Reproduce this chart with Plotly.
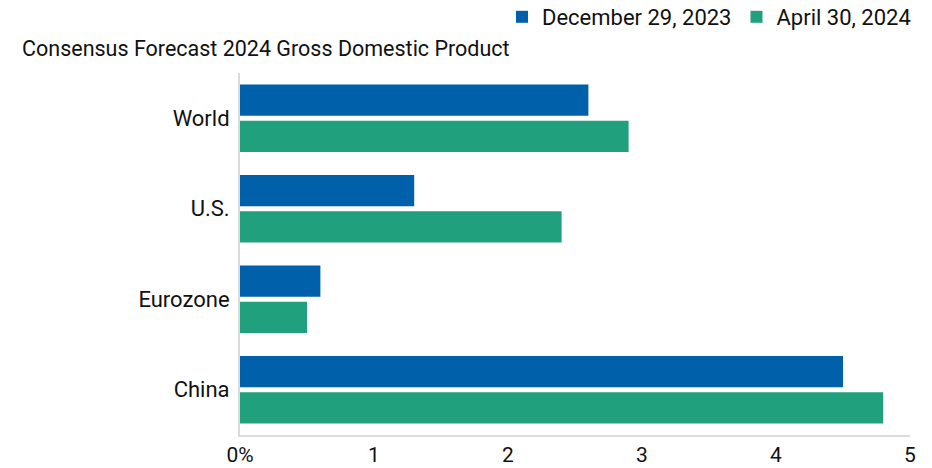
import plotly.graph_objects as go

categories = ["World", "U.S.", "Eurozone", "China"]
dec_2023 = [2.6, 1.3, 0.6, 4.5]
apr_2024 = [2.9, 2.4, 0.5, 4.8]
series_names = ["December 29, 2023", "April 30, 2024"]
tick_vals = [0, 1, 2, 3, 4, 5]
tick_text = ["0%", "1", "2", "3", "4", "5"]
title_text = "Consensus Forecast 2024 Gross Domestic Product"

BLUE = "#0060A9"
GREEN = "#21A07E"
FONT = "Roboto, Arial, sans-serif"
W, H = 932, 468

fig = go.Figure()
fig.add_trace(go.Bar(y=categories, x=dec_2023, orientation="h", name=series_names[0],
                     marker=dict(color=BLUE, line=dict(width=0))))
fig.add_trace(go.Bar(y=categories, x=apr_2024, orientation="h", name=series_names[1],
                     marker=dict(color=GREEN, line=dict(width=0))))

fig.update_layout(
    width=W, height=H,
    margin=dict(l=240, r=W - 240 - 670, t=73, b=H - 73 - 362, autoexpand=False),
    paper_bgcolor="white", plot_bgcolor="white",
    barmode="group", bargap=0.2, bargroupgap=0.14,
    font=dict(family=FONT, size=22, color="#111111"),
    showlegend=True,
    legend=dict(orientation="h", x=916 / W, xref="container", xanchor="right",
                y=1 - 17 / H, yref="container", yanchor="middle",
                font=dict(size=22, color="#111111"),
                itemwidth=30, traceorder="normal", bgcolor="rgba(0,0,0,0)"),
    annotations=[dict(text=title_text, xref="paper", yref="paper",
                      x=-(240 - 20) / 670, y=1.0,
                      xanchor="left", yanchor="middle", yshift=73 - 48, showarrow=False,
                      font=dict(size=21.5, color="#111111", family=FONT))],
    xaxis=dict(range=[0, 5], tickvals=tick_vals, ticktext=tick_text, showgrid=False,
               zeroline=False, showline=True, linecolor="#D9DCDF", linewidth=2,
               ticks="", ticklabelstandoff=0, tickfont=dict(size=21), automargin=False),
    yaxis=dict(autorange="reversed", showgrid=False, zeroline=False, showline=True,
               linecolor="#D9DCDF", linewidth=2, ticks="", ticklabelstandoff=4,
               tickfont=dict(size=22), automargin=False),
)

fig.write_html("out.html", post_script="document.body.style.margin='0';",
               config={"displayModeBar": False})
